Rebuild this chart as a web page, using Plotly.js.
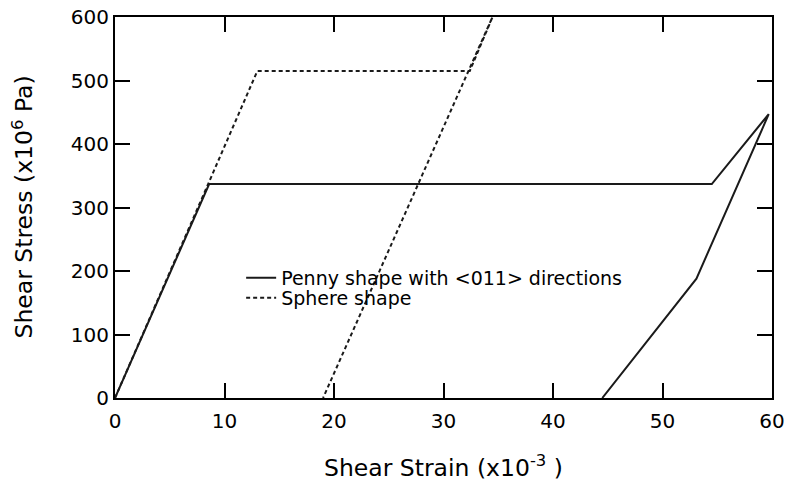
<!DOCTYPE html>
<html>
<head>
<meta charset="utf-8">
<script src="https://cdn.plot.ly/plotly-3.0.1.min.js"></script>
<style>html,body{margin:0;padding:0;background:#fff;}#chart{width:788px;height:485px;}</style>
</head>
<body>
<div id="chart"></div>
<script>
// Penny shape with <011> directions (solid)
const pennyStrain = [0, 8.6, 54.5, 59.7, 53.1, 44.5];
const pennyStress = [0, 337, 337, 447, 188, 0];
// Sphere shape (dashed)
const sphereStrain = [0, 13.0, 32.4, 34.6, 19.0];
const sphereStress = [0, 515, 515, 605, 0];

const seriesNames = ["Penny shape with <011> directions", "Sphere shape"];
const xTicks = [0, 10, 20, 30, 40, 50, 60];
const yTicks = [0, 100, 200, 300, 400, 500, 600];
const xTitle = "Shear Strain (x10<sup>-3</sup> )";
const yTitle = "Shear Stress (x10<sup>6</sup> Pa)";

const FONT = "DejaVu Sans, Liberation Sans, Arial, sans-serif";
const lineColor = "#1a1a1a";
const traces = [
  {x: pennyStrain, y: pennyStress, mode: "lines", name: seriesNames[0], legend: "legend",
   line: {color: lineColor, width: 2}},
  {x: sphereStrain, y: sphereStress, mode: "lines", name: seriesNames[1], legend: "legend2",
   line: {color: lineColor, width: 2, dash: "4px,3px"}}
];

const axisCommon = {
  showgrid: false, zeroline: false, showline: true, linecolor: "#000", linewidth: 2,
  mirror: "ticks", ticks: "inside", ticklen: 15, tickwidth: 2, tickcolor: "#000",
  automargin: false,
  tickfont: {family: FONT, size: 20, color: "#000"}
};

const legendCommon = {xanchor: "left", yanchor: "middle", bgcolor: "rgba(0,0,0,0)",
  font: {family: FONT, size: 19, color: "#000"}, borderwidth: 0};

const layout = {
  width: 788, height: 485,
  margin: {l: 115, r: 16, t: 17, b: 87},
  paper_bgcolor: "#fff", plot_bgcolor: "#fff",
  font: {family: FONT, color: "#000"},
  xaxis: Object.assign({}, axisCommon, {
    range: [0, 60], tickvals: xTicks, ticktext: xTicks.map(String), ticklabelstandoff: 4
  }),
  yaxis: Object.assign({}, axisCommon, {
    range: [0, 600], tickvals: yTicks, ticktext: yTicks.map(String)
  }),
  annotations: [
    {text: xTitle, xref: "paper", yref: "paper", x: 0.5, y: -0.18, xanchor: "center", yanchor: "middle",
     showarrow: false, font: {family: FONT, size: 23.5, color: "#000"}},
    {text: yTitle, xref: "paper", yref: "paper", x: -0.14, y: 0.5, xanchor: "center", yanchor: "middle",
     textangle: -90, showarrow: false, font: {family: FONT, size: 23.5, color: "#000"}}
  ],
  showlegend: true,
  legend: Object.assign({}, legendCommon, {x: 0.192, y: 0.315}),
  legend2: Object.assign({}, legendCommon, {x: 0.192, y: 0.263})
};

Plotly.newPlot("chart", traces, layout, {displayModeBar: false, staticPlot: true});
</script>
</body>
</html>
